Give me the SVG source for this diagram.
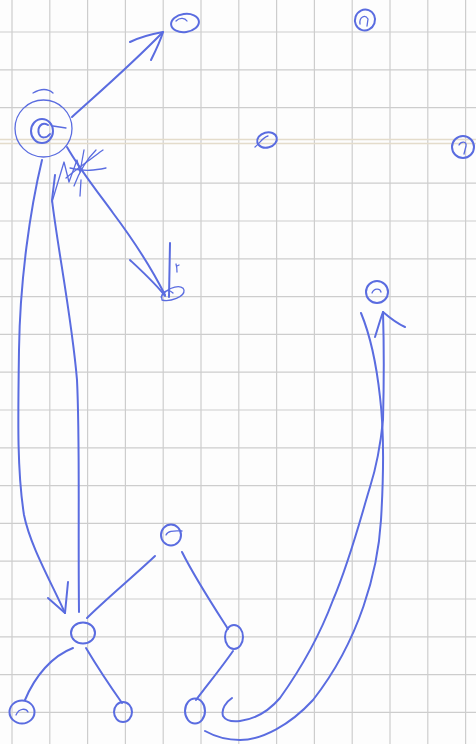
<svg xmlns="http://www.w3.org/2000/svg" width="476" height="744" viewBox="0 0 476 744">
<style>
.grid line{stroke:#cdcdcd;stroke-width:1.2}
.margin{stroke:#e4dccb;stroke-width:1.3}
.ink{fill:none;stroke:#5a6ce0;stroke-width:2;stroke-linecap:round;stroke-linejoin:round}
.thin{stroke-width:1.3}
</style>
<rect width="476" height="744" fill="#fdfdfd"/>
<g class="grid">
<line x1="12" y1="0" x2="12" y2="744"/><line x1="49.8" y1="0" x2="49.8" y2="744"/><line x1="87.6" y1="0" x2="87.6" y2="744"/><line x1="125.4" y1="0" x2="125.4" y2="744"/><line x1="163.2" y1="0" x2="163.2" y2="744"/><line x1="201" y1="0" x2="201" y2="744"/><line x1="238.8" y1="0" x2="238.8" y2="744"/><line x1="276.6" y1="0" x2="276.6" y2="744"/><line x1="314.4" y1="0" x2="314.4" y2="744"/><line x1="352.2" y1="0" x2="352.2" y2="744"/><line x1="390" y1="0" x2="390" y2="744"/><line x1="427.8" y1="0" x2="427.8" y2="744"/><line x1="465.6" y1="0" x2="465.6" y2="744"/>
<line x1="0" y1="32" x2="476" y2="32"/><line x1="0" y1="69.8" x2="476" y2="69.8"/><line x1="0" y1="107.6" x2="476" y2="107.6"/><line x1="0" y1="183.2" x2="476" y2="183.2"/><line x1="0" y1="221" x2="476" y2="221"/><line x1="0" y1="258.8" x2="476" y2="258.8"/><line x1="0" y1="296.6" x2="476" y2="296.6"/><line x1="0" y1="334.4" x2="476" y2="334.4"/><line x1="0" y1="372.2" x2="476" y2="372.2"/><line x1="0" y1="410" x2="476" y2="410"/><line x1="0" y1="447.8" x2="476" y2="447.8"/><line x1="0" y1="485.6" x2="476" y2="485.6"/><line x1="0" y1="523.4" x2="476" y2="523.4"/><line x1="0" y1="561.2" x2="476" y2="561.2"/><line x1="0" y1="599" x2="476" y2="599"/><line x1="0" y1="636.8" x2="476" y2="636.8"/><line x1="0" y1="674.6" x2="476" y2="674.6"/><line x1="0" y1="712.4" x2="476" y2="712.4"/>
</g>
<line class="margin" x1="0" y1="139.5" x2="476" y2="139.5"/>
<line class="margin" x1="0" y1="143.5" x2="476" y2="143.5"/>

<g id="connectors" class="ink">
<!-- big node to top node -->
<path d="M72,117 C95,96 130,66 163,32"/>
<path d="M130,42 C140,37 152,34 163,32 C160,42 155,52 151,60"/>
<!-- scribble self loop -->
<path class="thin" d="M52,202 L64,162 L69,182 L77,160 L80,172 L84,150"/>
<path class="thin" d="M70,168 C85,172 96,170 106,168"/>
<path class="thin" d="M74,186 C80,170 88,158 96,150"/>
<path class="thin" d="M66,178 C78,168 90,160 100,152 L103,150"/>
<path class="thin" d="M80,196 L81,180"/>
<!-- big node to middle node -->
<path d="M67,147 C80,170 100,195 113,213 C128,233 150,265 165,295"/>
<path d="M130,260 C145,274 157,285 165,296"/>
<path d="M170,243 L169,297"/>
<!-- long left arrow -->
<path d="M42,160 C30,210 20,280 19,350 C18,420 17,470 24,515 C30,545 50,580 65,613"/>
<path d="M48,598 L65,613 L68,582"/>
<path d="M55,175 L52,200 C58,250 72,320 77,380 C80,440 78,520 79,612"/>
<!-- tree edges -->
<path d="M87,618 C105,600 135,575 155,556"/>
<path d="M182,552 C195,578 212,604 228,629"/>
<path d="M233,651 C222,667 208,684 196,700"/>
<path d="M73,648 C52,656 35,676 25,700"/>
<path d="M86,648 C98,668 110,686 122,703"/>
<!-- U-shaped arrow -->
<path d="M361,313 C368,330 376,360 380,397 C384,430 384,470 381,520 C378,570 360,640 313,700 C290,725 262,740 240,740 C225,740 214,736 205,731"/>
<path d="M383,312 C384,345 384,383 383,420 C381,440 377,465 370,487 C360,520 350,560 333,600 C318,640 300,670 280,698 C268,712 255,719 240,721 C232,722 226,721 223,716 C221,709 226,702 232,698"/>
<path d="M375,337 C378,328 380,320 383,312 C390,318 396,323 405,327"/>
</g>

<g id="node-root" class="ink">
<circle class="thin" cx="43.5" cy="128.5" r="28.5"/>
<path class="thin" d="M53,93 Q45,86 33,93"/>
<ellipse cx="42" cy="131" rx="11" ry="12"/>
<path d="M48,125 C41,121 37,128 39,134 C41,139 47,138 50,134"/>
<path class="thin" d="M53,126 L66,128"/>
</g>
<g id="node-top" class="ink">
<ellipse cx="185" cy="23" rx="14" ry="9" transform="rotate(-8 185 23)"/>
<path class="thin" d="M176,21 C180,17 185,18 187,21"/>
</g>
<g id="node-topright" class="ink">
<ellipse cx="365" cy="20" rx="10" ry="10.5" transform="rotate(20 365 20)"/>
<path class="thin" d="M360,24 C359,17 365,14 368,19 L367,26"/>
</g>
<g id="node-mid" class="ink">
<ellipse cx="267" cy="140" rx="10" ry="7.5" transform="rotate(-15 267 140)"/>
<path class="thin" d="M255,147 C260,143 263,137 268,136"/>
</g>
<g id="node-right" class="ink">
<circle cx="463" cy="147" r="11"/>
<path class="thin" d="M459,145 C461,141 467,141 466,146 L464,154"/>
</g>
<g id="node-b" class="ink">
<path class="thin" d="M161,297 C168,286 183,284 184,290 C185,297 170,302 162,300 C160,292 168,288 173,293"/>
<path class="thin" d="M176,264 C177,267 177,270 177,272 M177,266 L179,265"/>
</g>
<g id="node-c" class="ink">
<circle cx="377" cy="292" r="11"/>
<path class="thin" d="M372,293 C374,288 380,288 381,292"/>
</g>
<g id="node-d" class="ink">
<ellipse cx="83" cy="633" rx="12" ry="10.5"/>
</g>
<g id="node-e" class="ink">
<ellipse cx="171" cy="535" rx="10" ry="10.5"/>
<path class="thin" d="M166,535 C168,530 175,531 182,531"/>
</g>
<g id="node-f" class="ink">
<ellipse cx="234" cy="637" rx="9" ry="12"/>
</g>
<g id="node-g" class="ink">
<ellipse cx="22" cy="712" rx="12.5" ry="11.5"/>
<path class="thin" d="M16,715 C19,708 26,708 28,712"/>
</g>
<g id="node-h" class="ink">
<ellipse cx="123" cy="712" rx="9" ry="10"/>
</g>
<g id="node-i" class="ink">
<ellipse cx="195" cy="711" rx="10" ry="12.5"/>
</g>
</svg>
